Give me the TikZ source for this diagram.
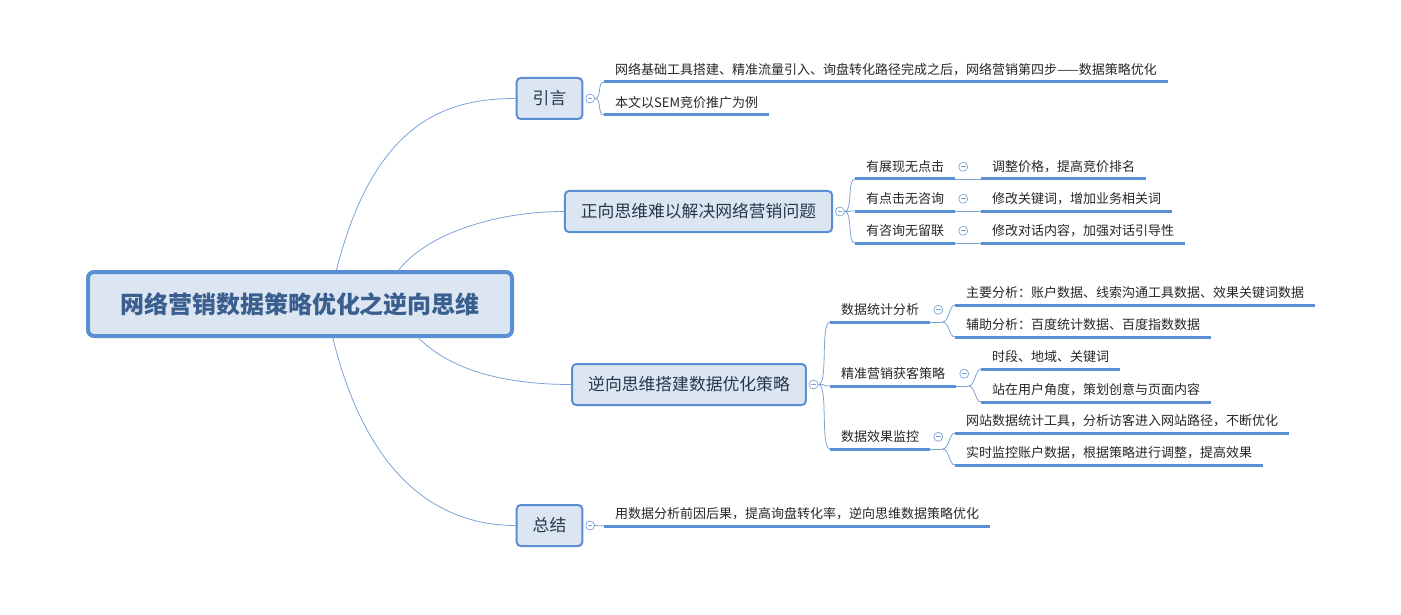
\documentclass[tikz,border=0pt]{standalone}
\usepackage{fontspec}
\setmainfont{Noto Sans CJK SC}
\usetikzlibrary{positioning}
\definecolor{lineblue}{HTML}{5B8FD4}
\definecolor{thinblue}{HTML}{7BA3D8}
\definecolor{boxfill}{HTML}{DCE6F2}
\definecolor{roottext}{HTML}{3A5F8F}
\definecolor{topictext}{HTML}{26374D}
\definecolor{inktext}{HTML}{262626}

\begin{document}
\begin{tikzpicture}[x=1pt, y=-1pt,
  conn/.style={draw=thinblue, line width=0.8pt},
  uline/.style={draw=lineblue, line width=3pt},
  topic/.style={draw=lineblue, line width=2pt, fill=boxfill, rounded corners=4pt,
    minimum height=41pt, inner xsep=16pt, text=topictext,
    font=\fontsize{16.8pt}{20pt}\selectfont},
  leaf/.style={anchor=south west, inner xsep=11pt, inner ysep=7pt, text height=10pt,
    text depth=0pt, text=inktext, font=\fontsize{13pt}{15pt}\selectfont},
  tog/.style={circle, draw=thinblue, fill=white, line width=0.7pt, minimum size=9pt,
    inner sep=0pt, path picture={\draw[thinblue, line width=0.7pt]
      ([xshift=2.2pt]path picture bounding box.west) --
      ([xshift=-2.2pt]path picture bounding box.east);}}]

  \useasboundingbox (0,0) rectangle (1401,615);

  %% centre
  \node[draw=lineblue, line width=4pt, fill=boxfill, rounded corners=6pt,
    minimum width=424pt, minimum height=64pt, text=roottext,
    font=\fontsize{24pt}{28pt}\selectfont\bfseries] (root) at (300,304)
    {网络营销数据策略优化之逆向思维};

  %% main topics
  \node[topic] (yin) at (549.5,98.5) {引言};
  \node[topic] (zheng) at (698.5,211.5) {正向思维难以解决网络营销问题};
  \node[topic] (ni) at (689,384.5) {逆向思维搭建数据优化策略};
  \node[topic] (zong) at (549.5,525.5) {总结};

  \node[tog, right=2pt of yin] (yinT) {};
  \node[tog, right=2pt of zheng] (zhengT) {};
  \node[tog, right=2pt of ni] (niT) {};
  \node[tog, right=2pt of zong] (zongT) {};

  \draw[conn] (root.43) .. controls +(38,-150) and +(-68,0) .. (yin.west); %% root->yin
  \draw[conn] (root.19) .. controls +(30,-38) and +(-65,0) .. (zheng.west); %% root->zheng
  \draw[conn] (root.-16) .. controls +(35,35) and +(-60,0) .. (ni.west); %% root->ni
  \draw[conn] (root.-46) .. controls +(37,150) and +(-68,0) .. (zong.west); %% root->zong

  %% yin
  \node[leaf] (a1) at (604,82) {网络基础工具搭建、精准流量引入、询盘转化路径完成之后，网络营销第四步——数据策略优化};
  \node[leaf] (a2) at (604,115) {本文以SEM竞价推广为例};
  \foreach \n in {a1,a2}{
    \draw[uline] (\n.south west) -- (\n.south east);
    \draw[conn] (yinT.east) .. controls +(7,0) and +(-7,0) .. (\n.south west);
  }

  %% zheng
  \node[leaf] (b1) at (855,179) {有展现无点击};
  \node[leaf] (b2) at (855,211) {有点击无咨询};
  \node[leaf] (b3) at (855,243) {有咨询无留联};
  \node[leaf] (c1) at (981,179) {调整价格，提高竞价排名};
  \node[leaf] (c2) at (981,211) {修改关键词，增加业务相关词};
  \node[leaf] (c3) at (981,243) {修改对话内容，加强对话引导性};
  \foreach \n/\m in {b1/c1,b2/c2,b3/c3}{
    \node[tog, right=3pt of \n] (\n T) {};
    \draw[uline] (\n.south west) -- (\n.south east);
    \draw[uline] (\m.south west) -- (\m.south east);
    \draw[conn] (zhengT.east) .. controls +(8,0) and +(-8,0) .. (\n.south west);
    \draw[conn] (\n.south east) -- (\m.south west); %% b->c
  }

  %% ni
  \node[leaf] (d1) at (830,322) {数据统计分析};
  \node[leaf] (d2) at (830,386) {精准营销获客策略};
  \node[leaf] (d3) at (830,449) {数据效果监控};
  \node[leaf] (e1) at (955,305) {主要分析：账户数据、线索沟通工具数据、效果关键词数据};
  \node[leaf] (e2) at (955,337) {辅助分析：百度统计数据、百度指数数据};
  \node[leaf] (e3) at (981,369) {时段、地域、关键词};
  \node[leaf] (e4) at (981,402) {站在用户角度，策划创意与页面内容};
  \node[leaf] (e5) at (955,433) {网站数据统计工具，分析访客进入网站路径，不断优化};
  \node[leaf] (e6) at (955,465) {实时监控账户数据，根据策略进行调整，提高效果};
  \foreach \n in {d1,d2,d3}{
    \node[tog, right=3pt of \n] (\n T) {};
    \draw[uline] (\n.south west) -- (\n.south east);
    \draw[conn] (niT.east) .. controls +(10,0) and +(-10,0) .. (\n.south west);
    \path (\n.south east) ++(12,0) coordinate (\n F);
    \draw[conn] (\n.south east) -- (\n F);
  }
  \foreach \n/\m in {d1/e1,d1/e2,d2/e3,d2/e4,d3/e5,d3/e6}{
    \draw[uline] (\m.south west) -- (\m.south east);
    \draw[conn] (\n F) .. controls +(7,0) and +(-6,0) .. (\m.south west);
  }

  %% zong
  \node[leaf] (f1) at (604,526) {用数据分析前因后果，提高询盘转化率，逆向思维数据策略优化};
  \draw[uline] (f1.south west) -- (f1.south east);
  \draw[conn] (zongT.east) -- (f1.south west);
\end{tikzpicture}
\end{document}
